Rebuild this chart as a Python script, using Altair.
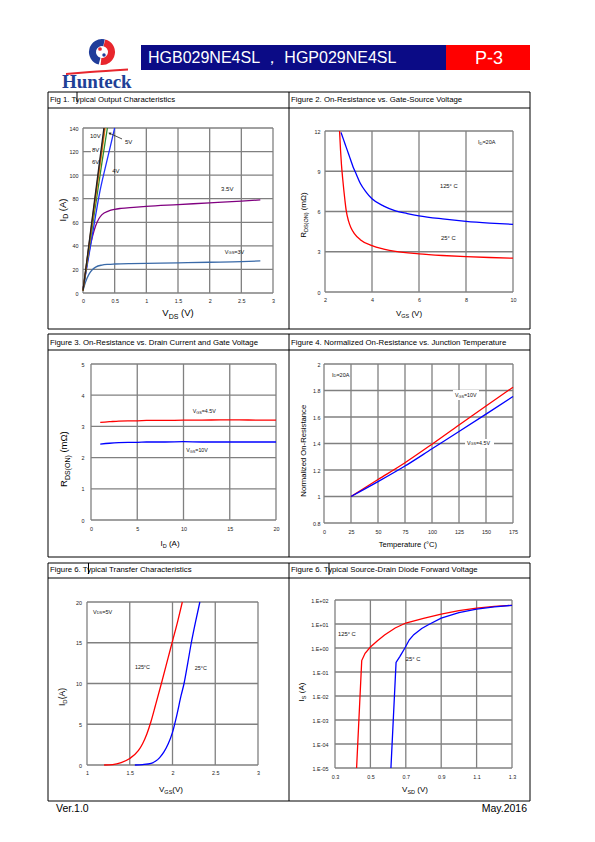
import altair as alt
import pandas as pd

FONT = "Liberation Sans"
W, H = 579, 826
OX, OY = 8, 8
GRID = "#808080"
RED = "#ff0000"
BLUE = "#0000ff"

# ---------------- texts ----------------
header_title = "HGB029NE4SL ， HGP029NE4SL"
header_page = "P-3"
brand = "Hunteck"
footer_left = "Ver.1.0"
footer_right = "May.2016"
fig_titles = [
    "Fig 1. Typical Output Characteristics",
    "Figure 2. On-Resistance vs. Gate-Source Voltage",
    "Figure 3. On-Resistance vs. Drain Current and Gate Voltage",
    "Figure 4. Normalized On-Resistance vs. Junction Temperature",
    "Figure 6. Typical Transfer Characteristics",
    "Figure 6. Typical Source-Drain Diode Forward Voltage",
]

# ---------------- Fig 1 data ----------------
f1_xticks = [0, 0.5, 1, 1.5, 2, 2.5, 3]
f1_yticks = [0, 20, 40, 60, 80, 100, 120, 140]
f1_v3_x = [0, 0.03, 0.06, 0.1, 0.15, 0.2, 0.3, 0.4, 0.5, 0.75, 1.0, 1.5, 2.0, 2.5, 2.8]
f1_v3_y = [2, 7.5, 12, 16.5, 20, 22, 23.7, 24.3, 24.6, 25.0, 25.2, 25.6, 26.1, 26.6, 27.2]
f1_v35_x = [0, 0.05, 0.1, 0.15, 0.2, 0.25, 0.3, 0.4, 0.5, 0.6, 0.8, 1.0, 1.5, 2.0, 2.5, 2.8]
f1_v35_y = [3, 20, 36, 48, 57, 63, 66.5, 69.5, 71, 71.8, 72.7, 73.5, 75, 76.5, 78, 79]
f1_v4_x = [0, 0.1, 0.2, 0.27, 0.35, 0.43, 0.5]
f1_v4_y = [3, 34, 66, 87, 106, 124, 140]
f1_v5_x = [0, 0.1, 0.2, 0.3, 0.385]
f1_v5_y = [2, 39, 75, 111, 140]
f1_v6_x = [0, 0.1, 0.2, 0.35]
f1_v6_y = [2, 41.5, 81, 140]
f1_v8_x = [0, 0.1, 0.2, 0.34]
f1_v8_y = [2, 43, 83.5, 140]
f1_v10_x = [0, 0.1, 0.2, 0.33]
f1_v10_y = [2, 44, 86, 140]
f1_arrow_x = [0.616, 0.42]
f1_arrow_y = [130.7, 135.5]

# ---------------- Fig 2 data ----------------
f2_xticks = [2, 4, 6, 8, 10]
f2_yticks = [0, 3, 6, 9, 12]
f2_125_x = [2.68, 2.8, 2.9, 3.0, 3.1, 3.2, 3.3, 3.5, 3.75, 4.0, 4.5, 5.0, 5.5, 6.0, 7.0, 8.0, 9.0, 10.0]
f2_125_y = [11.9, 11.3, 10.8, 10.3, 9.8, 9.3, 8.9, 8.1, 7.45, 6.95, 6.4, 6.05, 5.85, 5.68, 5.45, 5.27, 5.14, 5.04]
f2_25_x = [2.62, 2.66, 2.7, 2.75, 2.8, 2.85, 2.9, 3.0, 3.1, 3.25, 3.5, 4.0, 4.5, 5.0, 6.0, 7.0, 8.0, 9.0, 10.0]
f2_25_y = [12.0, 10.6, 9.5, 8.5, 7.6, 6.8, 6.1, 5.3, 4.8, 4.35, 3.9, 3.45, 3.2, 3.02, 2.84, 2.72, 2.63, 2.57, 2.52]

# ---------------- Fig 3 data ----------------
f3_xticks = [0, 5, 10, 15, 20]
f3_yticks = [0, 1, 2, 3, 4, 5]
f3_x = [1, 2, 3, 4, 5, 6, 8, 10, 12, 14, 16, 18, 20]
f3_45 = [3.13, 3.15, 3.17, 3.18, 3.18, 3.19, 3.19, 3.2, 3.2, 3.21, 3.21, 3.2, 3.2]
f3_10 = [2.43, 2.46, 2.48, 2.49, 2.49, 2.5, 2.5, 2.51, 2.5, 2.5, 2.5, 2.5, 2.5]

# ---------------- Fig 4 data ----------------
f4_xticks = [0, 25, 50, 75, 100, 125, 150, 175]
f4_yticks = [0.8, 1.0, 1.2, 1.4, 1.6, 1.8, 2.0]
f4_t = [25, 50, 75, 100, 125, 150, 175]
f4_10 = [1.0, 1.128, 1.255, 1.395, 1.54, 1.683, 1.825]
f4_45 = [1.0, 1.112, 1.23, 1.36, 1.49, 1.622, 1.755]

# ---------------- Fig 5 data ----------------
f5_xticks = [1, 1.5, 2, 2.5, 3]
f5_yticks = [0, 5, 10, 15, 20]
f5_125_x = [1.2, 1.3, 1.4, 1.5, 1.6, 1.65, 1.7, 1.75, 1.8, 1.87, 1.95, 2.0, 2.06, 2.115]
f5_125_y = [0, 0.05, 0.3, 0.8, 1.75, 2.6, 3.8, 5.4, 7.3, 10.0, 13.2, 15.2, 17.6, 20]
f5_25_x = [1.56, 1.65, 1.75, 1.8, 1.85, 1.9, 1.95, 2.0, 2.05, 2.1, 2.135, 2.18, 2.22, 2.27, 2.32]
f5_25_y = [0, 0.05, 0.2, 0.45, 0.9, 1.6, 2.6, 4.0, 6.1, 8.5, 10.0, 12.6, 15.0, 17.6, 20]

# ---------------- Fig 6 data ----------------
f6_xticks = [0.3, 0.5, 0.7, 0.9, 1.1, 1.3]
f6_yticks = [1e-5, 1e-4, 1e-3, 1e-2, 1e-1, 1, 10, 100]
f6_125_x = [0.422, 0.451, 0.47, 0.50, 0.54, 0.58, 0.64, 0.70, 0.80, 0.90, 1.00, 1.10, 1.20, 1.30]
f6_125_y = [1e-5, 0.3, 0.6, 1.1, 2.0, 3.5, 6.8, 11, 17, 26, 36, 46, 54, 60]
f6_25_x = [0.616, 0.645, 0.667, 0.695, 0.72, 0.745, 0.79, 0.83, 0.90, 1.00, 1.10, 1.20, 1.30]
f6_25_y = [1e-5, 0.25, 0.45, 1.0, 2.2, 3.6, 6.5, 9.5, 17.5, 30, 42, 52, 60]

# ---------------- helpers ----------------
AW = {' ': 0.278, '(': 0.333, ')': 0.333, '+': 0.584, ',': 0.278, '-': 0.333, '.': 0.278,
      '=': 0.584, 'A': 0.667, 'B': 0.667, 'C': 0.722, 'D': 0.722, 'E': 0.667, 'G': 0.778,
      'I': 0.278, 'N': 0.722, 'O': 0.778, 'R': 0.722, 'S': 0.667, 'T': 0.611, 'V': 0.667,
      'm': 0.833, 'Ω': 0.768, '°': 0.4}
for d in "0123456789":
    AW[d] = 0.556


def tw(s, fs):
    return sum(AW.get(c, 0.556) for c in s) * fs


ONE = pd.DataFrame({"k": [0]})
PLAIN = "'' + datum.value"


def scales(xdom, ydom, box, ylog=False):
    L, R, T, B = box
    xs = alt.Scale(domain=xdom, range=[L - OX, R - OX], nice=False, zero=False)
    if ylog:
        ys = alt.Scale(type="log", domain=ydom, range=[B - OY, T - OY], nice=False)
    else:
        ys = alt.Scale(domain=ydom, range=[B - OY, T - OY], nice=False, zero=False)
    return xs, ys


def grid(xs, ys, xdom, ydom, xticks, yticks, box, xpad=5.5, ypad=5, ylabexpr=PLAIN):
    L, R, T, B = box
    common = dict(grid=False, ticks=False, domain=False, title=None, labelFont=FONT,
                  labelFontSize=5.4, labelColor="#222")
    xax = alt.Axis(values=xticks, orient="bottom", offset=(B - OY) - H, labelPadding=xpad,
                   labelFlush=False, labelExpr=PLAIN, **common)
    yax = alt.Axis(values=yticks, orient="left", offset=-(L - OX), labelPadding=ypad,
                   labelExpr=ylabexpr, **common)
    dxf = pd.DataFrame({"v": xticks, "a": ydom[0], "b": ydom[1]})
    dyf = pd.DataFrame({"v": yticks, "a": xdom[0], "b": xdom[1]})
    gx = alt.Chart(dxf).mark_rule(color=GRID, strokeWidth=1.3).encode(
        x=alt.X("v:Q", scale=xs, axis=xax), y=alt.Y("a:Q", scale=ys, axis=None), y2="b:Q")
    gy = alt.Chart(dyf).mark_rule(color=GRID, strokeWidth=1.3).encode(
        y=alt.Y("v:Q", scale=ys, axis=yax), x=alt.X("a:Q", scale=xs, axis=None), x2="b:Q")
    return [gx, gy]


def line(xs, ys, xv, yv, color, width=1.3, interp="linear"):
    df = pd.DataFrame({"x": xv, "y": yv})
    return alt.Chart(df).mark_line(color=color, strokeWidth=width, interpolate=interp).encode(
        x=alt.X("x:Q", scale=xs, axis=None), y=alt.Y("y:Q", scale=ys, axis=None))


def wrect(xs, ys, x1, x2, y1, y2):
    df = pd.DataFrame({"x1": [x1], "x2": [x2], "y1": [y1], "y2": [y2]})
    return alt.Chart(df).mark_rect(color="white").encode(
        x=alt.X("x1:Q", scale=xs, axis=None), x2="x2:Q",
        y=alt.Y("y1:Q", scale=ys, axis=None), y2="y2:Q")


def split_lead(t, s):
    lead = len(t) - len(t.lstrip(" "))
    return t.lstrip(" "), tw(" " * lead, s)


def dlabel(xs, ys, x, y, pieces, color="#111"):
    out = []
    pos = 0.0
    for t, s, d in pieces:
        body, adv = split_lead(t, s)
        pos += adv
        df = pd.DataFrame({"x": [x], "y": [y], "t": [body]})
        out.append(alt.Chart(df).mark_text(align="left", baseline="middle", dx=pos, dy=d,
                                           fontSize=s, font=FONT, color=color).encode(
            x=alt.X("x:Q", scale=xs, axis=None), y=alt.Y("y:Q", scale=ys, axis=None), text="t:N"))
        pos += tw(body, s)
    return out


def ptext(x, y, t, size, align="left", color="#000", weight="normal", font=FONT, angle=0):
    kw = dict(text=t, align=align, baseline="alphabetic", fontSize=size, color=color,
              fontWeight=weight, font=font)
    if angle:
        kw["angle"] = angle
    return alt.Chart(ONE).mark_text(**kw).encode(x=alt.value(x - OX), y=alt.value(y - OY))


def ctext(cx, cy, pieces, rot=False):
    total = sum(tw(t, s) for t, s, d in pieces)
    pos = -total / 2
    out = []
    for t, s, d in pieces:
        body, adv = split_lead(t, s)
        pos += adv
        if rot:
            out.append(ptext(cx + d, cy - pos, body, s, angle=270))
        else:
            out.append(ptext(cx + pos, cy + d, body, s))
        pos += tw(body, s)
    return out


layers = []

# ---------------- page frame ----------------
segs = []
for top, tsep, bot in [(92, 108, 329), (334, 350, 557), (563, 578, 801)]:
    segs += [(48, 530, top, top), (48, 530, tsep, tsep), (48, 530, bot, bot),
             (48, 48, top, bot), (530, 530, top, bot), (289, 289, top, bot)]
segs += [(77, 77, 92, 102), (88.5, 88.5, 563, 574), (329, 329, 563, 575)]
frame = pd.DataFrame({"x": [s[0] - OX for s in segs], "x2": [s[1] - OX for s in segs],
                      "y": [s[2] - OY for s in segs], "y2": [s[3] - OY for s in segs]})
layers.append(alt.Chart(frame).mark_rule(color="#000", strokeWidth=1).encode(
    x=alt.X("x:Q", scale=None), x2="x2:Q", y=alt.Y("y:Q", scale=None), y2="y2:Q"))

# ---------------- header ----------------
hdr = pd.DataFrame({"x": [141 - OX, 446 - OX], "x2": [446 - OX, 530 - OX],
                    "y": [45 - OY, 45 - OY], "y2": [70 - OY, 70 - OY], "c": ["#0b0b86", RED]})
layers.append(alt.Chart(hdr).mark_rect().encode(
    x=alt.X("x:Q", scale=None), x2="x2:Q", y=alt.Y("y:Q", scale=None), y2="y2:Q",
    color=alt.Color("c:N", scale=None)))
layers.append(ptext(148, 62.5, header_title, 16, color="white"))
layers.append(ptext(489, 63.5, header_page, 18, align="center", color="white"))

# logo
layers.append(alt.Chart(ONE).mark_arc(theta=3.4, theta2=6.5, innerRadius=6, outerRadius=13,
                                      color="#1f3c9a").encode(x=alt.value(102 - OX), y=alt.value(52 - OY)))
layers.append(alt.Chart(ONE).mark_arc(theta=0.25, theta2=3.25, innerRadius=6, outerRadius=13,
                                      color="#e8262d").encode(x=alt.value(102 - OX), y=alt.value(52 - OY)))
layers.append(alt.Chart(ONE).mark_point(filled=True, size=14, color="#e8262d", opacity=1).encode(
    x=alt.value(100 - OX), y=alt.value(49 - OY)))
layers.append(alt.Chart(ONE).mark_point(filled=True, size=12, color="#1f3c9a", opacity=1).encode(
    x=alt.value(104 - OX), y=alt.value(55 - OY)))
sw = pd.DataFrame({"x": [66 - OX, 90 - OX, 128 - OX], "y": [74 - OY, 72 - OY, 69.5 - OY]})
layers.append(alt.Chart(sw).mark_line(color="#e8262d", strokeWidth=1.8, interpolate="monotone").encode(
    x=alt.X("x:Q", scale=None), y=alt.Y("y:Q", scale=None)))
layers.append(ptext(62, 88, brand, 19, color="#203f96", weight="bold", font="Liberation Serif"))

# footer
layers.append(ptext(56, 811.5, footer_left, 10.5))
layers.append(ptext(527, 811.5, footer_right, 10.5, align="right"))

# figure titles
for i, (x, y) in enumerate([(50, 101.5), (291, 101.5), (50, 344.5), (291, 344.5), (50, 572), (291, 572)]):
    layers.append(ptext(x, y, fig_titles[i], 7.8))

# ---------------- Fig 1 ----------------
b1 = (83, 273, 128, 293)
xs1, ys1 = scales([0, 3], [0, 140], b1)
layers += grid(xs1, ys1, [0, 3], [0, 140], f1_xticks, f1_yticks, b1, xpad=5.5, ypad=5)
layers.append(wrect(xs1, ys1, 0.125, 0.27, 117.5, 125))
layers.append(line(xs1, ys1, f1_v3_x, f1_v3_y, "#3a6aa8", interp="monotone"))
layers.append(line(xs1, ys1, f1_v35_x, f1_v35_y, "#800080", interp="monotone"))
layers.append(line(xs1, ys1, f1_v4_x, f1_v4_y, "#1f2fff", interp="monotone"))
layers.append(line(xs1, ys1, f1_v5_x, f1_v5_y, "#2e8b2e", interp="monotone"))
layers.append(line(xs1, ys1, f1_v6_x, f1_v6_y, "#ff8c00", interp="monotone"))
layers.append(line(xs1, ys1, f1_v8_x, f1_v8_y, "#a0522d", interp="monotone"))
layers.append(line(xs1, ys1, f1_v10_x, f1_v10_y, "#222222", interp="monotone"))
layers.append(line(xs1, ys1, f1_arrow_x, f1_arrow_y, "#222222", width=0.8))
layers.append(alt.Chart(pd.DataFrame({"x": [f1_arrow_x[1]], "y": [f1_arrow_y[1]]})).mark_point(
    shape="triangle-left", filled=True, size=10, angle=25, color="#222", opacity=1).encode(
    x=alt.X("x:Q", scale=xs1, axis=None), y=alt.Y("y:Q", scale=ys1, axis=None)))
for x, y, t in [(0.11, 133.5, "10V"), (0.142, 121.3, "8V"), (0.142, 111, "6V"),
                (0.46, 103.5, "4V"), (0.663, 128, "5V"), (2.18, 88.2, "3.5V")]:
    layers += dlabel(xs1, ys1, x, y, [(t, 6, 0)])
layers += dlabel(xs1, ys1, 2.24, 34.8, [("V", 5.5, 0), ("GS", 4, 1.5), ("=3V", 5.5, 0)])
layers += ctext(178, 316, [("V", 9.5, 0), ("DS", 7, 2.5), (" (V)", 9.5, 0)])
layers += ctext(65.5, 210, [("I", 9.5, 0), ("D", 7, 2.5), (" (A)", 9.5, 0)], rot=True)

# ---------------- Fig 2 ----------------
b2 = (325, 513, 131, 292)
xs2, ys2 = scales([2, 10], [0, 12], b2)
layers += grid(xs2, ys2, [2, 10], [0, 12], f2_xticks, f2_yticks, b2, xpad=5.5, ypad=5)
layers.append(line(xs2, ys2, f2_125_x, f2_125_y, BLUE, interp="monotone"))
layers.append(line(xs2, ys2, f2_25_x, f2_25_y, RED, interp="monotone"))
layers += dlabel(xs2, ys2, 8.51, 11.18, [("I", 5.5, 0), ("D", 4, 1.5), ("=20A", 5.5, 0)])
layers += dlabel(xs2, ys2, 6.89, 7.9, [("125° C", 5.8, 0)])
layers += dlabel(xs2, ys2, 6.94, 4.02, [("25° C", 5.8, 0)])
layers += ctext(409, 315.7, [("V", 8, 0), ("GS", 5.5, 2), (" (V)", 8, 0)])
layers += ctext(306.3, 215, [("R", 8, 0), ("DS(ON)", 5.5, 2), (" (mΩ)", 8, 0)], rot=True)

# ---------------- Fig 3 ----------------
b3 = (91, 276, 364, 520)
xs3, ys3 = scales([0, 20], [0, 5], b3)
layers += grid(xs3, ys3, [0, 20], [0, 5], f3_xticks, f3_yticks, b3, xpad=6, ypad=7)
layers.append(line(xs3, ys3, f3_x, f3_45, RED, interp="monotone"))
layers.append(line(xs3, ys3, f3_x, f3_10, BLUE, interp="monotone"))
layers += dlabel(xs3, ys3, 11.0, 3.49, [("V", 5.3, 0), ("GS", 3.8, 1.5), ("=4.5V", 5.3, 0)])
layers += dlabel(xs3, ys3, 10.3, 2.24, [("V", 5.3, 0), ("GS", 3.8, 1.5), ("=10V", 5.3, 0)])
layers += ctext(170, 546, [("I", 8, 0), ("D", 5.5, 2), (" (A)", 8, 0)])
layers += ctext(67, 459, [("R", 9.5, 0), ("DS(ON)", 7, 2.5), (" (mΩ)", 9.5, 0)], rot=True)

# ---------------- Fig 4 ----------------
b4 = (324, 513, 364, 523)
xs4, ys4 = scales([0, 175], [0.8, 2.0], b4)
layers += grid(xs4, ys4, [0, 175], [0.8, 2.0], f4_xticks, f4_yticks, b4, xpad=6, ypad=4)
layers.append(wrect(xs4, ys4, 119.4, 143.5, 1.728, 1.804))
layers.append(wrect(xs4, ys4, 130.6, 157.4, 1.366, 1.434))
layers.append(line(xs4, ys4, f4_t, f4_10, RED, interp="monotone"))
layers.append(line(xs4, ys4, f4_t, f4_45, BLUE, interp="monotone"))
layers += dlabel(xs4, ys4, 7.4, 1.917, [("I", 5.5, 0), ("D", 4, 1.5), ("=20A", 5.5, 0)])
layers += dlabel(xs4, ys4, 121.3, 1.766, [("V", 5.3, 0), ("GS", 3.8, 1.5), ("=10V", 5.3, 0)])
layers += dlabel(xs4, ys4, 132.4, 1.404, [("V", 5.3, 0), ("GS", 3.8, 1.5), ("=4.5V", 5.3, 0)])
layers += ctext(411, 547, [("Temperature (°C)", 7.6, 0)])
layers += ctext(305.5, 444, [("Normalized On-Resistance", 7.7, 0)], rot=True)

# ---------------- Fig 5 ----------------
b5 = (87, 258, 602, 765)
xs5, ys5 = scales([1, 3], [0, 20], b5)
layers += grid(xs5, ys5, [1, 3], [0, 20], f5_xticks, f5_yticks, b5, xpad=5, ypad=5.5)
layers.append(line(xs5, ys5, f5_125_x, f5_125_y, RED, interp="monotone"))
layers.append(line(xs5, ys5, f5_25_x, f5_25_y, BLUE, interp="monotone"))
layers += dlabel(xs5, ys5, 1.07, 18.8, [("V", 5.5, 0), ("DS", 4, 1.5), ("=5V", 5.5, 0)])
layers += dlabel(xs5, ys5, 1.56, 12.0, [("125°C", 5.4, 0)])
layers += dlabel(xs5, ys5, 2.26, 11.9, [("25°C", 5.4, 0)])
layers += ctext(171, 791.5, [("V", 8, 0), ("GS", 5.5, 2), ("(V)", 8, 0)])
layers += ctext(65, 697, [("I", 8.5, 0), ("D", 6, 2), ("(A)", 8.5, 0)], rot=True)

# ---------------- Fig 6 ----------------
b6 = (335, 512, 600, 768)
xs6, ys6 = scales([0.3, 1.3], [1e-5, 100], b6, ylog=True)
sci = "'1.E' + (datum.value >= 1 ? '+' : '-') + format(abs(round(log(datum.value) / LN10)), '02d')"
layers += grid(xs6, ys6, [0.3, 1.3], [1e-5, 100], f6_xticks, f6_yticks, b6, xpad=6, ypad=7, ylabexpr=sci)
layers.append(line(xs6, ys6, f6_125_x, f6_125_y, RED))
layers.append(line(xs6, ys6, f6_25_x, f6_25_y, BLUE))
layers += dlabel(xs6, ys6, 0.317, 3.8, [("125° C", 5.8, 0)])
layers += dlabel(xs6, ys6, 0.70, 0.35, [("25° C", 5.8, 0)])
layers += ctext(415, 792, [("V", 8, 0), ("SD", 5.5, 2), (" (V)", 8, 0)])
layers += ctext(303.5, 692, [("I", 8, 0), ("S", 5.5, 2), (" (A)", 8, 0)], rot=True)

chart = alt.layer(*layers).resolve_scale(x="independent", y="independent").properties(
    width=W, height=H, padding=0, autosize=alt.AutoSizeParams(type="none")
).configure_view(strokeWidth=0)

chart.save("out.html", embed_options={"renderer": "svg", "actions": False})
